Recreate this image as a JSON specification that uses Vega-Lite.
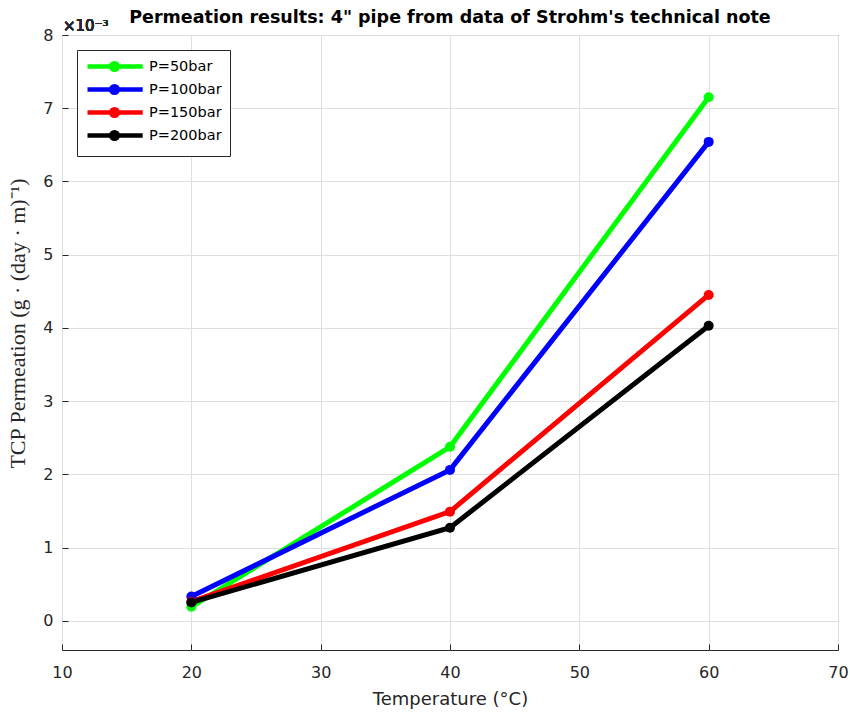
{
  "$schema": "https://vega.github.io/schema/vega-lite/v6.json",
  "width": 776,
  "height": 615,
  "autosize": {"type": "none"},
  "padding": {"left": 62, "top": 35, "right": 12, "bottom": 65},
  "background": "white",
  "title": {"text": "Permeation results: 4\" pipe from data of Strohm's technical note", "fontSize": 17.5, "font": "DejaVu Sans", "fontWeight": "bold", "color": "black", "anchor": "middle", "offset": -7},
  "config": {
    "view": {"stroke": "#262626", "strokeWidth": 1},
    "axis": {"labelFont": "DejaVu Sans", "labelFontSize": 16, "labelColor": "#262626", "titleColor": "#262626", "gridColor": "#dfdfdf", "gridWidth": 1, "domain": false, "tickColor": "#262626", "labelFlush": false}
  },
  "data": {"values": [
    {"T": 20, "v": 0.00019, "P": "P=50bar"},
    {"T": 40, "v": 0.002375, "P": "P=50bar"},
    {"T": 60, "v": 0.00715, "P": "P=50bar"},
    {"T": 20, "v": 0.00033, "P": "P=100bar"},
    {"T": 40, "v": 0.00206, "P": "P=100bar"},
    {"T": 60, "v": 0.00654, "P": "P=100bar"},
    {"T": 20, "v": 0.00026, "P": "P=150bar"},
    {"T": 40, "v": 0.00149, "P": "P=150bar"},
    {"T": 60, "v": 0.00445, "P": "P=150bar"},
    {"T": 20, "v": 0.00025, "P": "P=200bar"},
    {"T": 40, "v": 0.00127, "P": "P=200bar"},
    {"T": 60, "v": 0.00403, "P": "P=200bar"}
  ]},
  "layer": [
    {
      "mark": {"type": "line", "strokeWidth": 5, "point": {"filled": true, "size": 100}},
      "encoding": {
        "x": {"field": "T", "type": "quantitative", "scale": {"domain": [10, 70], "nice": false}, "axis": {"values": [10, 20, 30, 40, 50, 60, 70], "title": "Temperature (°C)", "titleFont": "DejaVu Sans", "titleFontSize": 18, "titleFontWeight": "normal", "labelPadding": 20, "titlePadding": 10, "tickSize": -6}},
        "y": {"field": "v", "type": "quantitative", "scale": {"domain": [-0.0004, 0.008], "nice": false, "zero": false}, "axis": {"values": [0, 0.001, 0.002, 0.003, 0.004, 0.005, 0.006, 0.007, 0.008], "labelExpr": "format(datum.value*1000, 'd')", "title": "TCP Permeation (g · (day · m)⁻¹)", "titleFont": "Liberation Serif", "titleFontSize": 22, "titleFontWeight": "normal", "labelPadding": 15, "titlePadding": 13, "titleY": 288, "tickSize": -6}},
        "color": {"field": "P", "type": "nominal", "sort": ["P=50bar", "P=100bar", "P=150bar", "P=200bar"], "scale": {"domain": ["P=50bar", "P=100bar", "P=150bar", "P=200bar"], "range": ["#00ff00", "#0000ff", "#ff0000", "#000000"]},
          "legend": {"title": null, "orient": "top-left", "offset": 15, "fillColor": "white", "strokeColor": "#262626", "padding": 8, "labelFont": "DejaVu Sans", "labelFontSize": 14.5, "labelColor": "black", "rowPadding": -2, "symbolType": "M-1,0L8.2,0M2.95,0A0.55,0.55 0 1,1 4.05,0A0.55,0.55 0 1,1 2.95,0Z", "symbolSize": 144, "symbolStrokeWidth": 4.5, "labelOffset": 47,
            "encode": {"symbols": {"update": {"fill": {"scale": "color", "field": "value"}, "stroke": {"scale": "color", "field": "value"}}}}}}
      }
    },
    {
      "mark": {"type": "text", "align": "left", "baseline": "alphabetic", "dy": -4, "dx": 1, "fontSize": 15, "font": "DejaVu Sans", "color": "#262626"},
      "encoding": {"x": {"datum": 10, "type": "quantitative"}, "y": {"datum": 0.008, "type": "quantitative"}, "text": {"value": "×10⁻³"}}
    }
  ]
}
